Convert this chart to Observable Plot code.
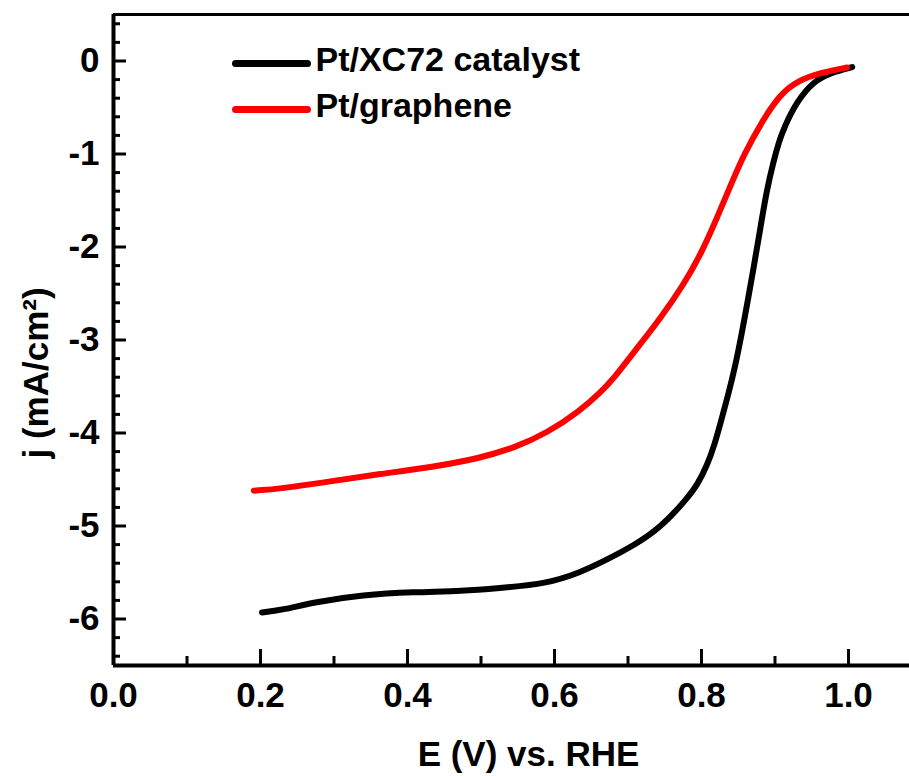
<!DOCTYPE html>
<html><head><meta charset="utf-8">
<script src="https://cdn.jsdelivr.net/npm/d3@7"></script>
<script src="https://cdn.jsdelivr.net/npm/@observablehq/plot@0.6"></script>
<style>body{margin:0;background:#fff}</style>
</head><body><div id="chart"></div>
<script>
// Pt/XC72 catalyst
const xcE = [0.202,0.232,0.272,0.340,0.408,0.476,0.522,0.590,0.635,0.672,0.710,0.744,0.780,0.795,0.808,0.818,0.827,0.836,0.846,0.855,0.862,0.871,0.880,0.889,0.898,0.905,0.912,0.930,0.953,0.976,1.005];
const xcJ = [-5.93,-5.90,-5.82,-5.74,-5.71,-5.70,-5.67,-5.62,-5.50,-5.36,-5.20,-5.02,-4.71,-4.55,-4.34,-4.12,-3.86,-3.60,-3.28,-2.92,-2.62,-2.22,-1.80,-1.38,-1.08,-0.88,-0.72,-0.43,-0.215,-0.125,-0.065];
// Pt/graphene
const grE = [0.191,0.227,0.295,0.363,0.431,0.499,0.545,0.590,0.635,0.663,0.681,0.708,0.744,0.776,0.799,0.821,0.840,0.858,0.883,0.907,0.930,0.962,0.998];
const grJ = [-4.62,-4.60,-4.52,-4.44,-4.37,-4.27,-4.16,-4.00,-3.76,-3.56,-3.41,-3.13,-2.77,-2.40,-2.08,-1.69,-1.33,-1.00,-0.64,-0.36,-0.215,-0.125,-0.07];

const seriesNames = ["Pt/XC72 catalyst", "Pt/graphene"];
const seriesColors = ["#000000", "#ff0000"];

const xMajor = [0.0, 0.2, 0.4, 0.6, 0.8, 1.0];
const xMinor = [0.1, 0.3, 0.5, 0.7, 0.9];
const yMajor = [-6, -5, -4, -3, -2, -1, 0];
const yMinor = [-6.4,-6.2,-5.8,-5.6,-5.4,-5.2,-4.8,-4.6,-4.4,-4.2,-3.8,-3.6,-3.4,-3.2,-2.8,-2.6,-2.4,-2.2,-1.8,-1.6,-1.4,-1.2,-0.8,-0.6,-0.4,-0.2,0.2,0.4];
const xDomain = [0, 1.083];
const yDomain = [-6.5, 0.5];
const xTitle = "E (V) vs. RHE";
const yTitle = "j (mA/cm²)";

const xc = xcE.map((e, i) => ({E: e, j: xcJ[i]}));
const gr = grE.map((e, i) => ({E: e, j: grJ[i]}));

const FONT = "'Liberation Sans', Arial, Helvetica, sans-serif";
const lineShape = {draw(context, l) { context.moveTo(0, 0); context.lineTo(0, -l); }};

const legendRows = [49, 95]; // vertical offset of each legend row from the frame top
const legendMarks = seriesNames.flatMap((name, i) => [
  Plot.vector([name], {frameAnchor: "top-left", dx: 122, dy: legendRows[i], rotate: 90, length: 72, anchor: "start",
    shape: lineShape, stroke: seriesColors[i], strokeWidth: 7}),
  Plot.text([name], {frameAnchor: "top-left", text: d => d, dx: 202, dy: legendRows[i] - 3, textAnchor: "start", lineAnchor: "middle",
    fontSize: 34, fontWeight: "bold", fill: "black"})
]);

const chart = Plot.plot({
  width: 909,
  height: 776,
  marginLeft: 113,
  marginRight: 0,
  marginTop: 14,
  marginBottom: 111,
  style: {fontFamily: FONT, fontWeight: "bold", background: "white", color: "black", overflow: "visible"},
  x: {domain: xDomain},
  y: {domain: yDomain},
  marks: [
    // minor ticks
    Plot.axisX(xMinor, {anchor: "bottom", tickSize: -9, text: null, strokeWidth: 3, label: null}),
    Plot.axisY(yMinor, {anchor: "left", tickSize: -7, text: null, strokeWidth: 3, label: null}),
    // major ticks
    Plot.axisX(xMajor, {anchor: "bottom", tickSize: -16, tickPadding: 33, strokeWidth: 3, fontSize: 35, fontWeight: "bold",
      tickFormat: d3.format(".1f"), label: null}),
    Plot.axisY(yMajor, {anchor: "left", tickSize: -13, tickPadding: 27, strokeWidth: 3, fontSize: 35, fontWeight: "bold",
      tickFormat: d => String(d), label: null}),
    // frame lines (left, bottom, top)
    Plot.ruleX([xDomain[0]], {stroke: "black", strokeWidth: 4}),
    Plot.ruleY([yDomain[0]], {stroke: "black", strokeWidth: 4}),
    Plot.ruleY([yDomain[1]], {stroke: "black", strokeWidth: 3}),
    // curves
    Plot.line(xc, {x: "E", y: "j", stroke: seriesColors[0], strokeWidth: 6, curve: "basis"}),
    Plot.line(gr, {x: "E", y: "j", stroke: seriesColors[1], strokeWidth: 6, curve: "basis"}),
    // legend
    ...legendMarks,
    // axis titles
    Plot.text([xTitle], {frameAnchor: "bottom", text: d => d, dx: 17, dy: 89, textAnchor: "middle", lineAnchor: "middle",
      fontSize: 35, fontWeight: "bold", fill: "black"}),
    Plot.text([yTitle], {frameAnchor: "left", text: d => d, dx: -77, dy: 33, rotate: -90, textAnchor: "middle", lineAnchor: "middle",
      fontSize: 35, fontWeight: "bold", fill: "black"})
  ]
});
document.getElementById("chart").appendChild(chart);
</script>
</body></html>
